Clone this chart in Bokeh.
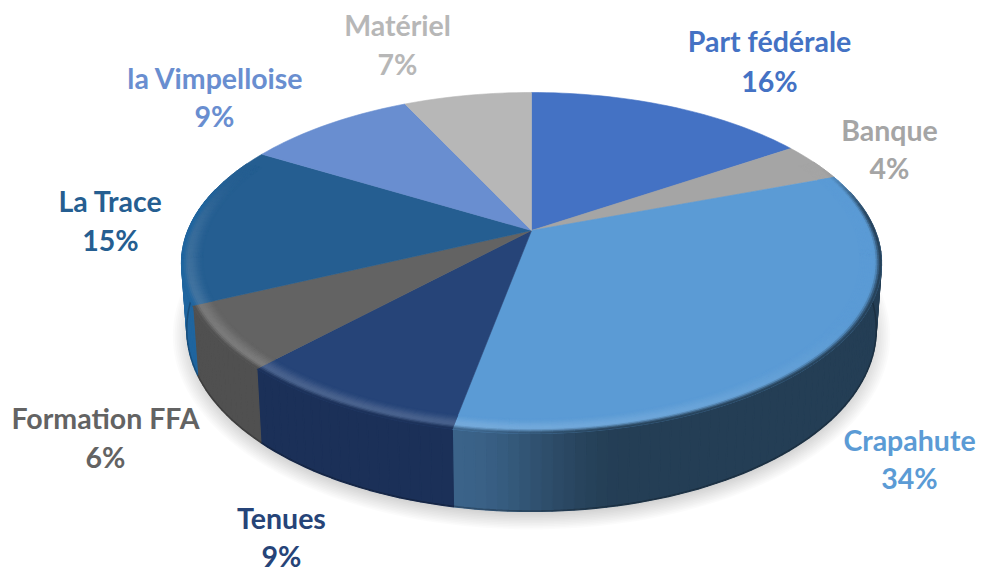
import numpy as np
from bokeh.plotting import figure
from bokeh.models import Range1d
from bokeh.core.properties import value
from bokeh.embed import file_html
from bokeh.resources import INLINE

# ---- data ----
categories = ["Part fédérale", "Banque", "Crapahute", "Tenues", "Formation FFA", "La Trace", "la Vimpelloise", "Matériel"]
shares = [15.7, 3.7, 33.6, 9.1, 6.0, 15.4, 9.4, 7.1]
percent_labels = ["16%", "4%", "34%", "9%", "6%", "15%", "9%", "7%"]

# ---- style ----
top_colors = ["#4472C4", "#A5A5A5", "#5B9BD5", "#264478", "#636363", "#255E91", "#698ED0", "#B7B7B7"]
wall_colors = ["#2A4A85", "#6E6E6E", "#243E55", "#1B3058", "#505050", "#1F659F", "#46649C", "#808080"]
label_colors = ["#4472C4", "#A5A5A5", "#5B9BD5", "#264478", "#636363", "#255E91", "#698ED0", "#B7B7B7"]
name_pos = [(769, 40), (889, 129), (909, 439), (281, 517), (105, 417), (110, 200), (215, 77), (397, 24)]
pct_pos = [(769, 80), (889, 167), (909, 477), (281, 555), (105, 456), (110, 239), (214, 115), (397, 63)]

# ---- perspective projection of the disc ----
CX, CY, A, B, K = 531.0, 230.0, 343.6, 164.3, 0.1905


def project(r, th):
    x, y = r * np.sin(th), r * np.cos(th)
    w = 1 + K * y
    return CX + A * x / w, CY - B * y / w


def project_low(th):
    X, Y = project(1.0, th)
    d = 64 - 14 * np.cos(th)
    return CX + (X - CX) * 0.985, Y + d


def rgb(h):
    return np.array([int(h[i:i + 2], 16) for i in (1, 3, 5)], dtype=float)


def hexc(c):
    c = np.clip(np.round(c), 0, 255).astype(int)
    return "#%02x%02x%02x" % tuple(c)


def mix(a, b, t):
    return a + (b - a) * t


def smooth(t):
    t = np.clip(t, 0, 1)
    return t * t * (3 - 2 * t)


edges = np.concatenate([[0], np.cumsum(shares)]) / sum(shares) * 2 * np.pi
slices = []
for i in range(len(shares)):
    n = max(3, int((edges[i + 1] - edges[i]) / np.radians(1.5)))
    slices.append(np.linspace(edges[i], edges[i + 1], n + 1))

p = figure(width=986, height=571, output_backend="svg", toolbar_location=None,
           x_range=Range1d(0, 986), y_range=Range1d(571, 0), min_border=0,
           outline_line_color=None, background_fill_color="white", border_fill_color="white")
p.axis.visible = False
p.grid.visible = False

# shadow
th_all = np.linspace(0, 2 * np.pi, 241)
lx, ly = project_low(th_all)
ymid = 0.5 * (ly.max() + ly.min())
for e in np.linspace(-10, 14, 14):
    sx = CX + (lx - CX) * (1 + e / 345)
    sy = ymid + (ly - ymid) * (1 + e / 215) + 6
    p.patch(sx, sy, fill_color="#000000", fill_alpha=0.016, line_color=None)


def wall_color(i, th):
    base = rgb(wall_colors[i])
    if categories[i] == "Crapahute":
        X, _ = project(1.0, th)
        return mix(rgb("#3B6389"), base, smooth((X - 453) / 170))
    return base


# walls
wxs, wys, wcs = [], [], []
for i, ths in enumerate(slices):
    for a, b in zip(ths[:-1], ths[1:]):
        m = 0.5 * (a + b)
        if np.cos(m) > 0.25:
            continue
        x0, y0 = project(1.0, a)
        x1, y1 = project(1.0, b)
        x2, y2 = project_low(b)
        x3, y3 = project_low(a)
        wxs.append([x0, x1, x2, x3])
        wys.append([y0, y1, y2, y3])
        wcs.append(hexc(wall_color(i, m)))
p.patches(wxs, wys, fill_color=wcs, line_color=wcs, line_width=1.2)

# lower rim
front = np.linspace(np.radians(92), np.radians(268), 200)
rx, ry = project_low(front)
p.line(rx, ry - 0.5, line_color="#000000", line_alpha=0.22, line_width=1.6)

# top wedges
for i, ths in enumerate(slices):
    X, Y = project(1.0, ths)
    p.patch(np.r_[CX, X], np.r_[CY, Y], fill_color=top_colors[i], line_color=top_colors[i], line_width=0.6)

# bevel ring
R0 = 0.94
bands = np.linspace(R0, 1.0, 13)
rxs, rys, rcs = [], [], []
light = np.array([-0.5, -0.85])
for i, ths in enumerate(slices):
    base = rgb(top_colors[i])
    for a, b in zip(ths[:-1], ths[1:]):
        m = 0.5 * (a + b)
        g = smooth((0.45 - np.cos(m)) / 0.4)
        if g <= 0:
            continue
        h = 0.17 * max(0.0, float(np.dot([np.sin(m), np.cos(m)], light)))
        hi = mix(base, np.array([255.0, 255.0, 255.0]), h)
        wc = wall_color(i, m)
        for r0, r1 in zip(bands[:-1], bands[1:]):
            t = ((0.5 * (r0 + r1)) - R0) / (1.0 - R0)
            if t < 0.68:
                c = mix(base, hi, smooth(t / 0.68))
            else:
                c = mix(hi, wc, smooth((t - 0.68) / 0.32))
            c = mix(base, c, g)
            xa, ya = project(r0, a)
            xb, yb = project(r0, b)
            xc, yc = project(r1, b)
            xd, yd = project(r1, a)
            rxs.append([xa, xb, xc, xd])
            rys.append([ya, yb, yc, yd])
            rcs.append(hexc(c))
p.patches(rxs, rys, fill_color=rcs, line_color=rcs, line_width=0.8)

# labels
FONT = value("Lato")
p.text([q[0] for q in name_pos], [q[1] for q in name_pos], text=categories, text_color=label_colors,
       text_font=FONT, text_font_style="bold", text_font_size="28.5px", text_align="center", text_baseline="middle")
p.text([q[0] for q in pct_pos], [q[1] for q in pct_pos], text=percent_labels, text_color=label_colors,
       text_font=FONT, text_font_style="bold", text_font_size="28.5px", text_align="center", text_baseline="middle")

open("out.html", "w").write(file_html(p, INLINE))
